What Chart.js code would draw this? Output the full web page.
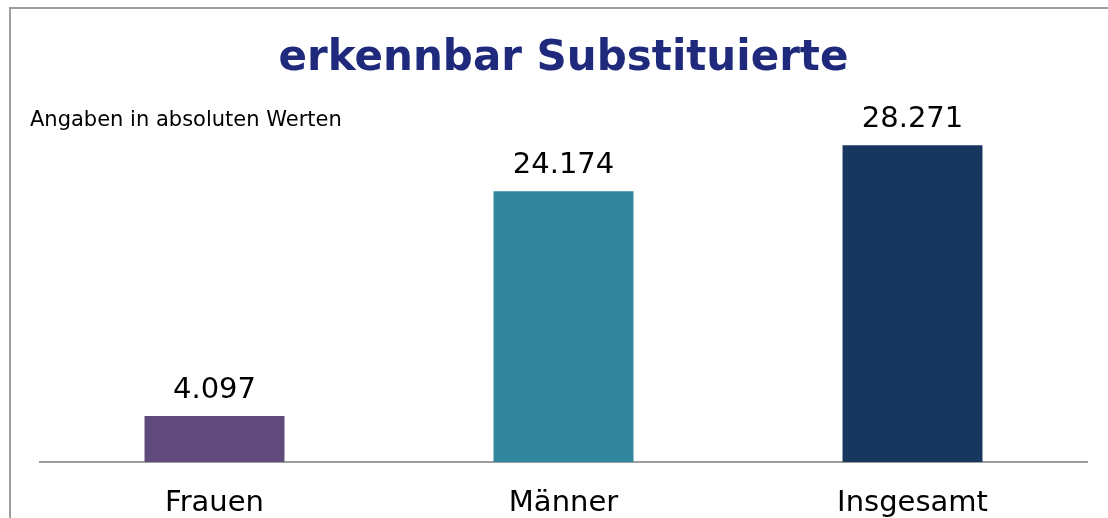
<!DOCTYPE html>
<html>
<head>
<meta charset="utf-8">
<script src="https://cdn.jsdelivr.net/npm/chart.js@4"></script>
<style>
  html, body { margin: 0; padding: 0; background: #fff; overflow: hidden; }
  #wrap { position: relative; width: 1108px; height: 518px; }
  #frame { position: absolute; left: 9px; top: 7px; width: 1200px; height: 600px;
           border-left: 2px solid #9d9d9d; border-top: 2px solid #9d9d9d; box-sizing: border-box; }
  canvas { position: absolute; left: 0; top: 0; }
</style>
</head>
<body>
<div id="wrap">
  <div id="frame"></div>
  <canvas id="c" width="1108" height="518"></canvas>
</div>
<script>
const titleText = "erkennbar Substituierte";
const subtitleText = "Angaben in absoluten Werten";
const categories = ["Frauen", "Männer", "Insgesamt"];
const values = [4097, 24174, 28271];
const barColors = ["#604A7B", "#31859C", "#17375E"];
const yMax = 30000;

const fmt = v => v.toLocaleString("de-DE");

const textPlugin = {
  id: "texts",
  afterDatasetsDraw(chart) {
    const ctx = chart.ctx;
    const area = chart.chartArea;
    ctx.save();
    // title
    ctx.fillStyle = "#1F2A7C";
    ctx.font = "bold 42px 'DejaVu Sans'";
    ctx.textAlign = "center";
    ctx.textBaseline = "alphabetic";
    ctx.fillText(titleText, (area.left + area.right) / 2, 70);
    // subtitle
    ctx.fillStyle = "#000";
    ctx.font = "21px 'DejaVu Sans'";
    ctx.textAlign = "left";
    ctx.fillText(subtitleText, 30, 126);
    // value labels
    ctx.font = "29px 'DejaVu Sans'";
    ctx.textAlign = "center";
    const meta = chart.getDatasetMeta(0);
    meta.data.forEach((bar, i) => {
      ctx.fillText(fmt(values[i]), bar.x, bar.y - 18);
    });
    ctx.restore();
  }
};

new Chart(document.getElementById("c"), {
  type: "bar",
  data: {
    labels: categories,
    datasets: [{
      data: values,
      backgroundColor: barColors,
      borderWidth: 0,
      barPercentage: 0.401,
      categoryPercentage: 1.0
    }]
  },
  options: {
    responsive: false,
    animation: false,
    devicePixelRatio: 1,
    layout: { padding: { left: 40, right: 21, top: 126, bottom: 0 } },
    plugins: { legend: { display: false }, tooltip: { enabled: false }, title: { display: false } },
    scales: {
      y: { display: false, min: 0, max: yMax },
      x: {
        grid: { display: false, drawTicks: false },
        border: { display: true, color: "#9d9d9d", width: 2 },
        ticks: { color: "#000", font: { family: "'DejaVu Sans'", size: 29 }, padding: 24 },
        afterFit(scale) { scale.height = 56; }
      }
    }
  },
  plugins: [textPlugin]
});
</script>
</body>
</html>
